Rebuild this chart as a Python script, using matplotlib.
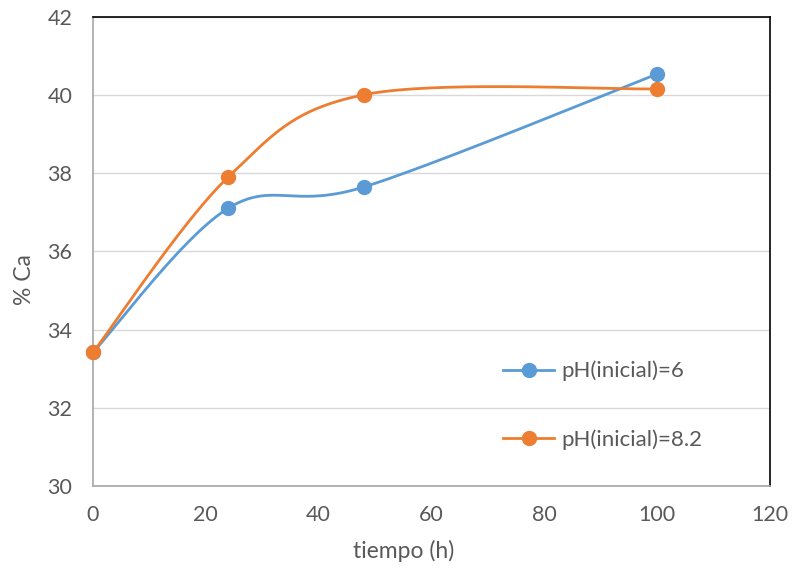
import numpy as np
import matplotlib
matplotlib.use("Agg")
import matplotlib.pyplot as plt
from matplotlib.lines import Line2D

plt.rcParams['font.family'] = ['Lato', 'DejaVu Sans']

tiempo = [0, 24, 48, 100]
ca_ph6 = [33.42, 37.11, 37.65, 40.54]
ca_ph82 = [33.42, 37.91, 40.01, 40.16]
labels = ["pH(inicial)=6", "pH(inicial)=8.2"]
colors = ["#5B9BD5", "#ED7D31"]


def smooth(x, y, n=60):
    x = np.asarray(x, float)
    y = np.asarray(y, float)
    P = np.column_stack([x, y])
    Pe = np.vstack([P[0], P, P[-1]])
    out = []
    t = np.linspace(0, 1, n)[:, None]
    for i in range(len(P) - 1):
        p0 = Pe[i + 1]
        p3 = Pe[i + 2]
        c1 = p0 + (Pe[i + 2] - Pe[i]) / 6.0
        c2 = p3 - (Pe[i + 3] - Pe[i + 1]) / 6.0
        seg = ((1 - t) ** 3) * p0 + 3 * ((1 - t) ** 2) * t * c1 + 3 * (1 - t) * t ** 2 * c2 + t ** 3 * p3
        out.append(seg)
    s = np.vstack(out)
    return s[:, 0], s[:, 1]


fig = plt.figure(figsize=(7.92, 5.69), dpi=100)
ax = fig.add_axes([93 / 792, 83 / 569, 677 / 792, 469 / 569])

handles = []
for ys, lab, c in zip([ca_ph6, ca_ph82], labels, colors):
    sx, sy = smooth(tiempo, ys)
    ax.plot(sx, sy, color=c, lw=2.0, solid_capstyle='round', zorder=3)
    ax.plot(tiempo, ys, 'o', color=c, ms=10, zorder=4, clip_on=False)
    handles.append(Line2D([], [], color=c, lw=2.0, marker='o', ms=10))

ax.set_xlim(0, 120)
ax.set_ylim(30, 42)
ax.set_xticks(np.arange(0, 121, 20))
ax.set_yticks(np.arange(30, 43, 2))
ax.yaxis.grid(True, color='#D9D9D9', lw=1)
ax.set_axisbelow(True)
ax.tick_params(length=0, labelsize=15.5, colors='#595959')
ax.tick_params(axis='x', pad=14)
ax.tick_params(axis='y', pad=15)
for s in ['left', 'bottom']:
    ax.spines[s].set_color('#A6A6A6')
    ax.spines[s].set_linewidth(1.2)
for s in ['top', 'right']:
    ax.spines[s].set_color('black')
    ax.spines[s].set_linewidth(1.2)

ax.set_xlabel('tiempo (h)', fontsize=16.5, color='#595959')
ax.set_ylabel('% Ca', fontsize=16.5, color='#595959')
ax.xaxis.set_label_coords(0.459, -0.115)
ax.yaxis.set_label_coords(-0.086, 0.441)

leg = ax.legend(handles, labels, loc='upper left', bbox_to_anchor=(0.606, 0.267),
                frameon=False, fontsize=16, labelspacing=2.15, handlelength=2.3,
                handletextpad=0.3, borderpad=0, borderaxespad=0)
for t in leg.get_texts():
    t.set_color('#595959')

fig.savefig('out.png', dpi=100)
